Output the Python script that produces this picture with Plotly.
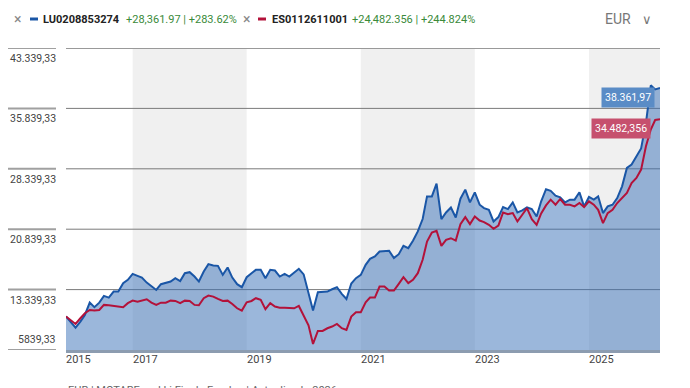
import pandas as pd
import plotly.graph_objects as go

# ---------------- data ----------------
start_month = "2015-11-01"
lu_name = "LU0208853274"
es_name = "ES0112611001"
lu_change = "+28,361.97 | +283.62%"
es_change = "+24,482.356 | +244.824%"
lu_last_label = "38.361,97"
es_last_label = "34.482,356"

lu_values = [
    10000, 9300, 8615, 9360, 10190, 11720, 11150, 11720, 12560, 12350,
    13090, 13090, 14140, 14550, 15290, 15050, 14830, 14210, 13720, 13300,
    14010, 14140, 14340, 14760, 14400, 15380, 15500, 14960, 14340, 15590,
    16500, 16330, 16290, 15170, 16080, 14830, 14010, 13640, 14880, 15380,
    15790, 15790, 14760, 15790, 15710, 14960, 15290, 14960, 15460, 15920,
    15230, 12900, 10730, 13010, 13090, 13090, 13380, 13640, 12810, 12180,
    14100, 14760, 15170, 16410, 17160, 17450, 18070, 18160, 18160, 17250,
    17740, 18770, 18490, 19400, 20560, 22100, 24910, 24910, 26490, 22100,
    22920, 23540, 22300, 24630, 25750, 24170, 25410, 23880, 23460, 23250,
    21800, 22340, 23590, 23340, 24170, 22920, 23170, 23540, 23340, 22420,
    24300, 25800, 25600, 25000, 24800, 24170, 24510, 24510, 25420, 23670,
    24840, 24510, 24920, 22840, 23670, 23880, 24710, 26160, 28450, 28860,
    29900, 30860, 34050, 38700, 38200, 38361.97,
]
es_values = [
    10000, 9500, 9070, 9780, 10400, 10810, 10730, 10810, 11440, 11400,
    11310, 11250, 11150, 11650, 11970, 11840, 12000, 12140, 11720, 11440,
    11720, 11720, 11970, 11930, 11650, 11970, 11930, 11440, 11400, 12270,
    12600, 12470, 12180, 11930, 11970, 11560, 11020, 10730, 11770, 11930,
    12270, 12060, 10900, 11650, 11230, 11100, 11100, 11020, 11020, 11310,
    10100, 8900, 6590, 8210, 8210, 8540, 8750, 9080, 8540, 8330,
    9990, 10530, 10530, 11770, 12350, 12350, 13720, 13720, 13220, 13220,
    14050, 14880, 14140, 14550, 15380, 17040, 19300, 20430, 20640, 18770,
    19520, 19720, 19430, 21470, 22340, 21470, 22420, 21920, 21720, 21380,
    20890, 21300, 22920, 22710, 22840, 21800, 22630, 23460, 22090, 21380,
    22800, 23800, 24510, 23880, 24590, 23880, 23880, 23670, 24090, 23590,
    24300, 23880, 23250, 21590, 22840, 23250, 24090, 24700, 25330, 26580,
    27200, 28240, 31140, 33210, 34400, 34482.356,
]
y_ticks = [5839.33, 13339.33, 20839.33, 28339.33, 35839.33, 43339.33]
y_tick_labels = ["5839,33", "13.339,33", "20.839,33", "28.339,33", "35.839,33", "43.339,33"]
x_tick_dates = [start_month, "2017-01-01", "2019-01-01", "2021-01-01", "2023-01-01", "2025-01-01"]
x_tick_labels = ["2015", "2017", "2019", "2021", "2023", "2025"]
band_starts = ["2017-01-01", "2021-01-01", "2025-01-01"]
band_ends = ["2019-01-01", "2023-01-01", None]  # None -> end of data

dates = pd.date_range(start_month, periods=len(lu_values), freq="MS")
last_date = dates[-1]

# ---------------- style ----------------
W, H = 690, 388
ML, MR, MT, MB = 66, 30, 48, 38
PW = W - ML - MR
PH = H - MT - MB
FONT = "Roboto, Liberation Sans, sans-serif"
BLUE = "#1a56a6"
RED = "#b3123a"
GREEN = "#3a8a3a"


def px_x(px):
    return (px - ML) / PW


def px_y(py):
    return 1 - (py - MT) / PH


fig = go.Figure()
fig.add_trace(go.Scatter(
    x=dates, y=lu_values, mode="lines", fill="tozeroy",
    fillcolor="rgba(56,112,184,0.5)",
    line=dict(color=BLUE, width=2), name=lu_name, hoverinfo="skip",
))
fig.add_trace(go.Scatter(
    x=dates, y=es_values, mode="lines",
    line=dict(color=RED, width=2), name=es_name, hoverinfo="skip",
))

shapes = []
for s, e in zip(band_starts, band_ends):
    shapes.append(dict(type="rect", xref="x", yref="paper", x0=s,
                       x1=e if e else last_date, y0=0, y1=1,
                       fillcolor="#f0f0f0", line=dict(width=0), layer="below"))
# horizontal gridlines + short left marks
for i, v in enumerate(y_ticks):
    top = (i == len(y_ticks) - 1)
    bottom = (i == 0)
    if not bottom:
        shapes.append(dict(type="line", xref="paper", yref="y", x0=0, x1=1, y0=v, y1=v,
                           line=dict(color="#999999" if top else "#7a7a7a", width=2 if top else 1),
                           layer="below"))
    shapes.append(dict(type="line", xref="paper", yref="y", x0=px_x(8), x1=px_x(56), y0=v, y1=v,
                       line=dict(color="#a0a0a0", width=2), layer="above"))
# legend dashes
shapes.append(dict(type="line", xref="paper", yref="paper", x0=px_x(30), x1=px_x(38),
                   y0=px_y(19), y1=px_y(19), line=dict(color=BLUE, width=3)))
shapes.append(dict(type="line", xref="paper", yref="paper", x0=px_x(258), x1=px_x(266),
                   y0=px_y(19), y1=px_y(19), line=dict(color=RED, width=3)))

ann = []
for i, (v, t) in enumerate(zip(y_ticks, y_tick_labels)):
    ann.append(dict(x=px_x(57), y=v, xref="paper", yref="y", text=t, showarrow=False,
                    xanchor="right", yanchor="bottom" if i == 0 else "top",
                    yshift=2 if i == 0 else -2, xshift=1,
                    font=dict(family=FONT, size=10.5, color="#444444")))
for d, t in zip(x_tick_dates, x_tick_labels):
    ann.append(dict(x=d, y=0, xref="x", yref="paper", text=t, showarrow=False,
                    xanchor="left", yanchor="top", yshift=-1, xshift=-2,
                    font=dict(family=FONT, size=11, color="#444444")))
# header
hdr = [
    (12, "×", "#888888", False, 14),
    (41, lu_name, "#222222", True, 11),
    (124, lu_change, GREEN, False, 11),
    (241, "×", "#888888", False, 14),
    (270, es_name, "#222222", True, 11),
    (350, es_change, GREEN, False, 11),
    (603, "EUR", "#777777", False, 14),
]
for xpx, t, c, b, sz in hdr:
    ann.append(dict(x=px_x(xpx), y=px_y(19), xref="paper", yref="paper",
                    text=f"<b>{t}</b>" if b else t, showarrow=False,
                    xanchor="left", yanchor="middle",
                    font=dict(family=FONT, size=sz, color=c)))
ann.append(dict(x=px_x(647), y=px_y(19), xref="paper", yref="paper", text="∨",
                showarrow=False, xanchor="center", yanchor="middle",
                font=dict(family="DejaVu Sans", size=13, color="#777777")))
# end value labels
ann.append(dict(x=last_date, y=lu_values[-1], xref="x", yref="y", text=lu_last_label,
                showarrow=False, xanchor="right", yanchor="top", xshift=-5, yshift=1,
                bgcolor="#5a8cc6", borderpad=3,
                font=dict(family=FONT, size=10.5, color="white")))
ann.append(dict(x=last_date, y=es_values[-1], xref="x", yref="y", text=es_last_label,
                showarrow=False, xanchor="right", yanchor="top", xshift=-9, yshift=1,
                bgcolor="#c6506e", borderpad=3,
                font=dict(family=FONT, size=10.5, color="white")))
# footer (clipped at bottom, as in the source)
ann.append(dict(x=px_x(66), y=px_y(382), xref="paper", yref="paper",
                text="EUR | MOTARE and Li Fin de Fondos | Actualizado 2026", showarrow=False,
                xanchor="left", yanchor="top",
                font=dict(family=FONT, size=11, color="#666666")))

fig.update_layout(
    width=W, height=H,
    margin=dict(l=ML, r=MR, t=MT, b=MB),
    paper_bgcolor="white", plot_bgcolor="white",
    showlegend=False,
    shapes=shapes, annotations=ann,
    xaxis=dict(range=[dates[0], last_date], showgrid=False, zeroline=False,
               showticklabels=False, ticks="", showline=True,
               linecolor="#8c9cb0", linewidth=3),
    yaxis=dict(range=[y_ticks[0], y_ticks[-1]], showgrid=False, zeroline=False,
               showticklabels=False, ticks=""),
    font=dict(family=FONT),
)
fig.write_html("out.html", config={"displayModeBar": False},
               post_script="document.body.style.margin='0';")
